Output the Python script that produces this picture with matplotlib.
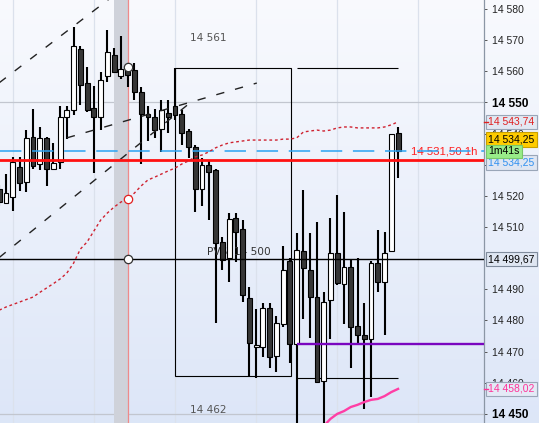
import matplotlib
matplotlib.use("Agg")
import matplotlib.pyplot as plt
import matplotlib.transforms as mtransforms
from matplotlib.patches import Rectangle
import numpy as np

# --- candles: bar index, open, high, low, close ---
bars = list(range(-1, 59))
opens = [14522.2, 14517.7, 14519.6, 14529.3, 14524.4, 14538.9, 14530.2, 14538.6, 14528.6, 14530.9,
         14545.3, 14547.6, 14567.1, 14556.2, 14548.2, 14545.3, 14558.5, 14565.2, 14558.5, 14561.4,
         14560.4, 14553.3, 14546.3, 14545.3, 14541.5, 14546.6, 14548.8, 14546.3, 14540.8, 14535.7,
         14522.2, 14529.9, 14528.3, 14505.2, 14500.0, 14512.9, 14509.4, 14487.2, 14471.5, 14471.5,
         14484.0, 14468.6, 14478.9, 14499.1, 14472.4, 14502.3, 14496.2, 14487.5, 14460.6, 14486.6,
         14501.6, 14491.7, 14497.2, 14478.2, 14475.3, 14474.0, 14498.4, 14492.3, 14502.3, 14540.2]
highs = [14523.5, 14527.0, 14532.5, 14532.5, 14541.1, 14547.9, 14542.1, 14539.0, 14537.0, 14548.8,
         14548.8, 14574.2, 14568.1, 14561.4, 14555.3, 14559.7, 14573.2, 14567.5, 14571.3, 14562.6,
         14562.6, 14554.9, 14548.8, 14547.9, 14550.8, 14550.8, 14561.0, 14547.6, 14541.5, 14536.3,
         14532.1, 14531.5, 14528.6, 14506.8, 14514.5, 14514.5, 14512.2, 14490.7, 14483.7, 14485.6,
         14485.6, 14481.4, 14503.9, 14500.0, 14508.1, 14521.9, 14508.1, 14511.6, 14489.1, 14512.9,
         14520.3, 14514.8, 14499.7, 14500.0, 14485.6, 14499.1, 14509.0, 14508.4, 14540.0, 14542.1]
lows = [14516.7, 14517.5, 14515.1, 14521.5, 14521.2, 14528.6, 14528.3, 14523.2, 14528.3, 14528.6,
        14538.2, 14545.9, 14549.2, 14546.9, 14527.3, 14541.1, 14556.5, 14559.4, 14557.5, 14554.9,
        14550.8, 14530.2, 14537.6, 14538.6, 14534.1, 14540.2, 14544.3, 14536.3, 14532.1, 14514.8,
        14516.7, 14512.2, 14479.2, 14496.2, 14492.3, 14498.8, 14485.9, 14462.0, 14461.5, 14468.3,
        14464.7, 14463.4, 14477.9, 14466.3, 14440.0, 14480.5, 14474.4, 14459.9, 14440.0, 14474.0,
        14491.4, 14478.9, 14464.7, 14472.1, 14451.6, 14455.4, 14489.1, 14475.3, 14502.0, 14525.7]
closes = [14518.0, 14520.9, 14530.9, 14524.1, 14538.6, 14529.6, 14538.6, 14528.6, 14530.5, 14545.3,
          14547.6, 14568.1, 14555.6, 14547.6, 14545.3, 14557.2, 14566.2, 14559.7, 14560.7, 14558.8,
          14553.3, 14546.3, 14545.3, 14541.1, 14547.6, 14545.3, 14545.9, 14540.2, 14535.7, 14522.2,
          14529.9, 14527.6, 14504.9, 14499.4, 14512.6, 14508.4, 14488.2, 14472.8, 14472.1, 14484.0,
          14468.3, 14479.2, 14496.2, 14472.4, 14502.6, 14496.8, 14487.5, 14460.2, 14485.9, 14501.6,
          14492.0, 14497.2, 14477.9, 14475.3, 14474.0, 14498.4, 14492.3, 14501.6, 14539.8, 14534.25]

# dotted moving average (same bars as candles)
ma_values = [14483.3, 14484.3, 14485.1, 14485.9, 14486.7, 14487.5, 14489.0, 14490.4, 14491.8, 14493.3,
             14495.2, 14498.4, 14502.9, 14505.2, 14508.7, 14512.2, 14514.5, 14516.4, 14518.0, 14519.0,
             14520.9, 14523.2, 14525.1, 14526.0, 14527.0, 14528.0, 14528.9, 14530.2, 14531.2, 14532.5,
             14533.1, 14534.1, 14535.4, 14536.3, 14537.0, 14537.3, 14537.6, 14537.9, 14537.9, 14537.9,
             14537.9, 14537.9, 14538.2, 14538.2, 14538.6, 14540.5, 14540.8, 14541.1, 14540.8, 14541.1,
             14541.8, 14542.1, 14542.1, 14541.8, 14541.8, 14541.8, 14541.8, 14542.1, 14542.8, 14543.74]

# pink average near the bottom
pink_bars = list(range(47, 59))
pink_values = [14446.1, 14448.4, 14450.0, 14450.9, 14452.2, 14452.9, 14453.8, 14454.5, 14454.8,
               14455.7, 14457.0, 14458.02]

# drawn objects
channel_upper = ([-1, 16], [14556.3, 14584.4])
channel_lower = ([-1, 27.2], [14500.2, 14549.8])
trend_mid = ([9.0, 37.1], [14538.6, 14556.2])
range_bars = (25, 42.15)
range_high = 14561
range_low = 14462
ext_bars = (43, 58)
ext_high = 14561
ext_low = 14461.5
level_1h = 14531.50
last_price = 14534.25
pvs_level = 14499.67
purple_level = 14472.4
purple_start = 43
marker_band = (16, 18.05)
marker_points = [14561.4, 14499.67]
marker_ma = 14519.0

# 14 500 sits fully under the 14 499,67 tag, so it is left out
ytick_values = [v for v in range(14450, 14590, 10) if v != 14500]
bold_ticks = [14550, 14450]
grid_bars = [1, 13, 25, 37, 49, 61]


def fmt(v, dec=0):
    return f"{v:,.{dec}f}".replace(",", " ").replace(".", ",")


fig = plt.figure(figsize=(5.39, 4.23), dpi=100)

# background gradient
bg = fig.add_axes([0, 0, 1, 1])
grad = np.linspace(0, 1, 256).reshape(-1, 1)
top = np.array([0.975, 0.98, 0.995])
bot = np.array([0.866, 0.902, 0.972])
img = top + (bot - top) * grad[:, :, None]
bg.imshow(img, aspect="auto", extent=[0, 1, 0, 1])
bg.axis("off")

ax = fig.add_axes([0, 0, 484 / 539, 1])
ax.set_facecolor("none")
ax.set_xlim(-0.888, 70.71)
ax.set_ylim(14447.07, 14582.86)

for s in ["left", "top", "bottom"]:
    ax.spines[s].set_visible(False)
ax.spines["right"].set_color("#8b96a5")
ax.spines["right"].set_linewidth(0.9)
ax.set_xticks([])

# grid
for g in grid_bars:
    ax.axvline(g, color="#dbe1ec", lw=0.9, zorder=0)
for t in bold_ticks:
    ax.axhline(t, color="#c2c6cf", lw=0.9, zorder=0)

# marker band + line
ax.axvspan(marker_band[0], marker_band[1], color="#cfd2da", lw=0, zorder=1)
ax.axvline(marker_band[1], color="#ee8a8a", lw=0.9, zorder=1)

# candles
for i, o, h, l, c in zip(bars, opens, highs, lows, closes):
    ax.vlines(i, l, h, color="black", lw=1.5, zorder=3)
    up = c >= o
    lo_b, hi_b = min(o, c), max(o, c)
    ax.add_patch(Rectangle((i - 0.36, lo_b), 0.72, max(hi_b - lo_b, 0.35),
                           fc="white" if up else "#363636", ec="black", lw=0.8, zorder=4))

# range box
ax.add_patch(Rectangle((range_bars[0], range_low), range_bars[1] - range_bars[0],
                       range_high - range_low, fill=False, ec="black", lw=0.8, zorder=3))
ax.hlines([ext_high, ext_low], ext_bars[0], ext_bars[1], color="black", lw=0.8, zorder=3)
ax.annotate(fmt(range_high), xy=(range_bars[0], range_high), xytext=(15, 30),
            textcoords="offset pixels", ha="left", va="center", fontsize=7.6, color="#555555")
ax.annotate(fmt(range_low), xy=(range_bars[0], range_low), xytext=(15, -34),
            textcoords="offset pixels", ha="left", va="center", fontsize=7.6, color="#555555")

# channel lines
for xs, ys in [channel_upper, channel_lower, trend_mid]:
    ax.plot(xs, ys, color="#222222", lw=1.0, ls=(0, (6, 8)), zorder=5)

# horizontal levels
ax.axhline(pvs_level, color="black", lw=1.0, zorder=5)
ax.annotate("PVS, 14 500", xy=(29.75, pvs_level), xytext=(0, 2), textcoords="offset pixels",
            ha="left", va="bottom", fontsize=7.6, color="#333333")
ax.axhline(last_price, color="#2aa3f3", lw=1.1, ls=(0, (14, 7)), zorder=5)
ax.axhline(level_1h, color="#ff1111", lw=2.0, zorder=5)
ax.hlines(purple_level, purple_start, 70.71, color="#7a06bf", lw=1.7, zorder=5)

blend = mtransforms.blended_transform_factory(ax.transAxes, ax.transData)
ax.annotate(fmt(level_1h, 2) + " 1h", xy=(1 - 7 / 484, level_1h), xycoords=blend,
            xytext=(0, 3), textcoords="offset pixels", ha="right", va="bottom",
            fontsize=8.2, color="#ff2020", family="Liberation Sans")

# averages
ax.plot(bars, ma_values, color="#cf2230", lw=1.0, ls=(0, (2, 2)), zorder=5)
ax.plot(pink_bars, pink_values, color="#ff3ea5", lw=1.7, zorder=5)

# marker circles
ax.plot([marker_band[1]] * len(marker_points), marker_points, "o", mfc="white", mec="#333333",
        ms=6, mew=0.9, zorder=6)
ax.plot(marker_band[1], marker_ma, "o", mfc="white", mec="#e02020", ms=6, mew=0.9, zorder=6)

# right axis
ax.yaxis.tick_right()
ax.set_yticks(ytick_values)
ax.set_yticklabels([fmt(v) for v in ytick_values])
ax.tick_params(axis="y", length=2.5, width=0.7, color="#555555", pad=3,
               labelsize=7.5, labelcolor="#222222")
for lab, v in zip(ax.get_yticklabels(), ytick_values):
    lab.set_family("Liberation Sans")
    if v in bold_ticks:
        lab.set_fontweight("bold")
        lab.set_fontsize(8.6)
        lab.set_color("black")

# price tags on the axis
tags = [
    (pvs_level, fmt(pvs_level, 2), "black", "#dfe6f2", "#7f8b9c"),
    (14458.02, fmt(14458.02, 2), "#ff3399", "#e4eaf6", "#9aa6b8"),
    (ma_values[-1], fmt(ma_values[-1], 2), "#e02020", "#e2e8f3", "#9aa6b8"),
    (last_price - 3.6, fmt(last_price, 2), "#3090f0", "#dfe6f2", "#9aa6b8"),
    (last_price + 3.9, fmt(last_price, 2), "black", "#ffcc00", "#c9a000"),
]
for y, txt, tc, fc, ec in tags:
    ax.text(1.009, y, txt, transform=blend, ha="left", va="center", fontsize=7.5, color=tc,
            family="Liberation Sans", clip_on=False, zorder=7,
            bbox=dict(boxstyle="square,pad=0.22", fc=fc, ec=ec, lw=0.8))
ax.text(1.009, last_price, "1m41s", transform=blend, ha="left", va="center", fontsize=7.5,
        color="black", family="Liberation Sans", clip_on=False, zorder=8,
        bbox=dict(boxstyle="square,pad=0.18", fc="#98ec88", ec="#78c868", lw=0.8))
for y, col in [(ma_values[-1], "#e02020"), (14458.02, "#ff3399")]:
    ax.plot([1.0, 1.008], [y, y], color=col, lw=1.0, transform=blend, clip_on=False, zorder=7)

fig.savefig("out.png", dpi=100)
